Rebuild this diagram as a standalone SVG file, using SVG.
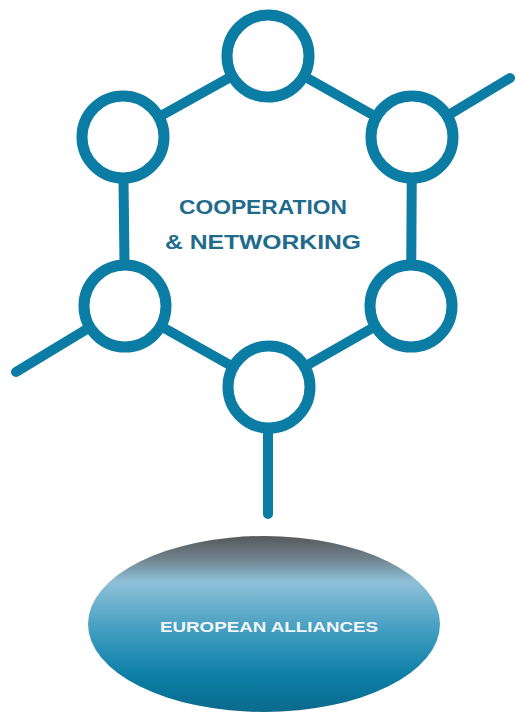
<svg xmlns="http://www.w3.org/2000/svg" width="516" height="713" viewBox="0 0 516 713">
<style>
.ring{fill:#fff;stroke:#0b7ca3;stroke-width:11}
.link{stroke:#0b7ca3;stroke-width:10;stroke-linecap:round;fill:none}
.hub{font-family:"Liberation Sans",Arial,sans-serif;font-weight:bold;fill:#1f6b8c;font-size:21px;text-anchor:middle}
.eu{font-family:"Liberation Sans",Arial,sans-serif;font-weight:bold;fill:#f2f6f8;font-size:15px;text-anchor:middle}
</style>
<defs>
<linearGradient id="g" x1="0" y1="0" x2="0" y2="1">
<stop offset="0" stop-color="#55595c"/>
<stop offset="0.12" stop-color="#6d7f88"/>
<stop offset="0.26" stop-color="#8fc0d7"/>
<stop offset="0.55" stop-color="#3f9cc0"/>
<stop offset="0.8" stop-color="#0c7ea6"/>
<stop offset="1" stop-color="#0a6a8c"/>
</linearGradient>
</defs>
<g id="connectors">
<line class="link" x1="268" y1="56" x2="412" y2="137"/>
<line class="link" x1="268" y1="56" x2="123" y2="137"/>
<line class="link" x1="412" y1="137" x2="411" y2="306"/>
<line class="link" x1="123" y1="137" x2="125" y2="306"/>
<line class="link" x1="125" y1="306" x2="269" y2="387"/>
<line class="link" x1="411" y1="306" x2="269" y2="387"/>
<line class="link" x1="412" y1="137" x2="510" y2="78"/>
<line class="link" x1="125" y1="306" x2="16" y2="372"/>
<line class="link" x1="268" y1="387" x2="268" y2="514"/>
</g>
<g id="n-top"><circle class="ring" cx="268" cy="56" r="41"/></g>
<g id="n-upper-right"><circle class="ring" cx="412" cy="137" r="41"/></g>
<g id="n-upper-left"><circle class="ring" cx="123" cy="137" r="41"/></g>
<g id="n-lower-left"><circle class="ring" cx="125" cy="306" r="41"/></g>
<g id="n-lower-right"><circle class="ring" cx="411" cy="306" r="41"/></g>
<g id="n-bottom"><circle class="ring" cx="269" cy="387" r="41"/></g>
<g id="hub-label">
<text class="hub" x="263" y="214" textLength="168" lengthAdjust="spacingAndGlyphs">COOPERATION</text>
<text class="hub" x="263" y="249" textLength="196" lengthAdjust="spacingAndGlyphs">&amp; NETWORKING</text>
</g>
<g id="european-alliances">
<ellipse cx="264" cy="624" rx="176" ry="88" fill="url(#g)"/>
<text class="eu" x="269" y="632" textLength="218" lengthAdjust="spacingAndGlyphs">EUROPEAN ALLIANCES</text>
</g>
</svg>
